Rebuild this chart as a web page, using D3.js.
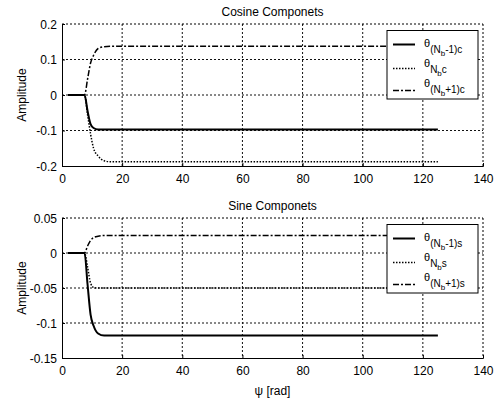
<!DOCTYPE html>
<html>
<head>
<meta charset="utf-8">
<script src="https://cdn.jsdelivr.net/npm/d3@7"></script>
<style>
  body { margin: 0; background: #fff; }
  svg { display: block; font-family: "Liberation Sans", Arial, sans-serif; }
</style>
</head>
<body>
<svg id="chart" width="499" height="401"></svg>
<script>
// shared psi samples [rad]
const psi = [2, 7.5, 8.5, 9.5, 10.5, 12, 14, 16, 125];

// cosine components
const cosMinus = [0, 0, -0.045, -0.082, -0.093, -0.097, -0.097, -0.097, -0.097];
const cosN     = [0, 0, -0.055, -0.11, -0.15, -0.172, -0.185, -0.188, -0.188];
const cosPlus  = [0, 0, 0.045, 0.09, 0.112, 0.131, 0.136, 0.137, 0.137];

// sine components
const sinMinus = [0, 0, -0.045, -0.088, -0.104, -0.115, -0.118, -0.118, -0.118];
const sinN     = [0, 0, -0.02, -0.043, -0.049, -0.05, -0.05, -0.05, -0.05];
const sinPlus  = [0, 0, 0.01, 0.018, 0.022, 0.024, 0.025, 0.025, 0.025];

const xTicks = [0, 20, 40, 60, 80, 100, 120, 140];
const cosTicks = [-0.2, -0.1, 0, 0.1, 0.2];
const sinTicks = [-0.15, -0.1, -0.05, 0, 0.05];

const cosLabels = [["(N", "b", "-1)c"], ["N", "b", "c"], ["(N", "b", "+1)c"]];
const sinLabels = [["(N", "b", "-1)s"], ["N", "b", "s"], ["(N", "b", "+1)s"]];

const styles = [
  {dash: null, width: 2},
  {dash: "1.5,1.5", width: 1.5},
  {dash: "6,2,2,2", width: 1.5}
];

const svg = d3.select("#chart");
const x = d3.scaleLinear().domain([0, 140]).range([62, 483]);
const gridDash = "2,2";

function draw_panel(top, bottom, title, ticks, series, labels) {
  const y = d3.scaleLinear().domain([ticks[0], ticks[ticks.length - 1]]).range([bottom, top]);
  const g = svg.append("g");

  // grid
  g.selectAll(".vgrid").data(xTicks.slice(1, -1)).enter().append("line")
    .attr("x1", d => x(d)).attr("x2", d => x(d))
    .attr("y1", top).attr("y2", bottom)
    .attr("stroke", "#111").attr("stroke-width", 1).attr("stroke-dasharray", gridDash);
  g.selectAll(".hgrid").data(ticks.slice(1, -1)).enter().append("line")
    .attr("x1", x(0)).attr("x2", x(140))
    .attr("y1", d => y(d)).attr("y2", d => y(d))
    .attr("stroke", "#111").attr("stroke-width", 1).attr("stroke-dasharray", gridDash);
  // top and right edges look dashed in the scan
  g.append("line").attr("x1", x(0)).attr("x2", x(140)).attr("y1", top).attr("y2", top)
    .attr("stroke", "#000").attr("stroke-dasharray", gridDash);
  g.append("line").attr("x1", x(140)).attr("x2", x(140)).attr("y1", top).attr("y2", bottom)
    .attr("stroke", "#000").attr("stroke-dasharray", gridDash);

  // curves
  const line = d3.line().x((d, i) => x(psi[i])).y(d => y(d)).curve(d3.curveMonotoneX);
  series.forEach((s, i) => {
    g.append("path").datum(s).attr("d", line)
      .attr("fill", "none").attr("stroke", "#000")
      .attr("stroke-width", styles[i].width)
      .attr("stroke-dasharray", styles[i].dash);
  });

  // axes
  const fmt = d => String(+d.toFixed(2));
  const xa = g.append("g").attr("transform", `translate(0,${bottom})`)
    .call(d3.axisBottom(x).tickValues(xTicks).tickSize(-3).tickPadding(6).tickFormat(fmt));
  const ya = g.append("g").attr("transform", `translate(${x(0)},0)`)
    .call(d3.axisLeft(y).tickValues(ticks).tickSize(-3).tickPadding(5).tickFormat(fmt));
  [xa, ya].forEach(a => {
    a.select(".domain").attr("stroke", "#000").attr("stroke-width", 1);
    a.selectAll("text").attr("font-size", 12).attr("fill", "#000")
      .attr("font-family", "Liberation Sans, Arial, sans-serif");
  });
  xa.selectAll("text").attr("dy", null).attr("y", 16.5);
  ya.selectAll("text").attr("x", -5).attr("dy", "0.36em");

  // title
  svg.append("text").attr("x", (x(0) + x(140)) / 2).attr("y", top - 8)
    .attr("text-anchor", "middle").attr("font-size", 12).text(title);
  // y label
  svg.append("text")
    .attr("transform", `translate(25.5,${(top + bottom) / 2}) rotate(-90)`)
    .attr("text-anchor", "middle").attr("font-size", 12).text("Amplitude");

  // legend
  const lx = 387, ly = top + 6.5, lw = 91, lh = 68.5;
  const leg = svg.append("g");
  leg.append("rect").attr("x", lx).attr("y", ly).attr("width", lw).attr("height", lh)
    .attr("fill", "#fff").attr("stroke", "#000").attr("stroke-width", 1);
  const rowLine = [14, 38, 60];
  const rowText = [16, 36, 56];
  labels.forEach((lab, i) => {
    leg.append("line").attr("x1", lx + 6).attr("x2", lx + 28)
      .attr("y1", ly + rowLine[i]).attr("y2", ly + rowLine[i])
      .attr("stroke", "#000").attr("stroke-width", styles[i].width)
      .attr("stroke-dasharray", styles[i].dash);
    const t = leg.append("text").attr("x", lx + 37).attr("y", ly + rowText[i]);
    t.append("tspan").attr("font-size", 11).text("θ");
    t.append("tspan").attr("font-size", 10).attr("dy", 6).text(lab[0]);
    t.append("tspan").attr("font-size", 8).attr("dy", 3).text(lab[1]);
    t.append("tspan").attr("font-size", 10).attr("dy", -3).text(lab[2]);
  });
}

draw_panel(24, 166, "Cosine Componets", cosTicks, [cosMinus, cosN, cosPlus], cosLabels);
draw_panel(218, 358, "Sine Componets", sinTicks, [sinMinus, sinN, sinPlus], sinLabels);

svg.append("text").attr("x", (x(0) + x(140)) / 2).attr("y", 395)
  .attr("text-anchor", "middle").attr("font-size", 12).text("ψ [rad]");
</script>
</body>
</html>
